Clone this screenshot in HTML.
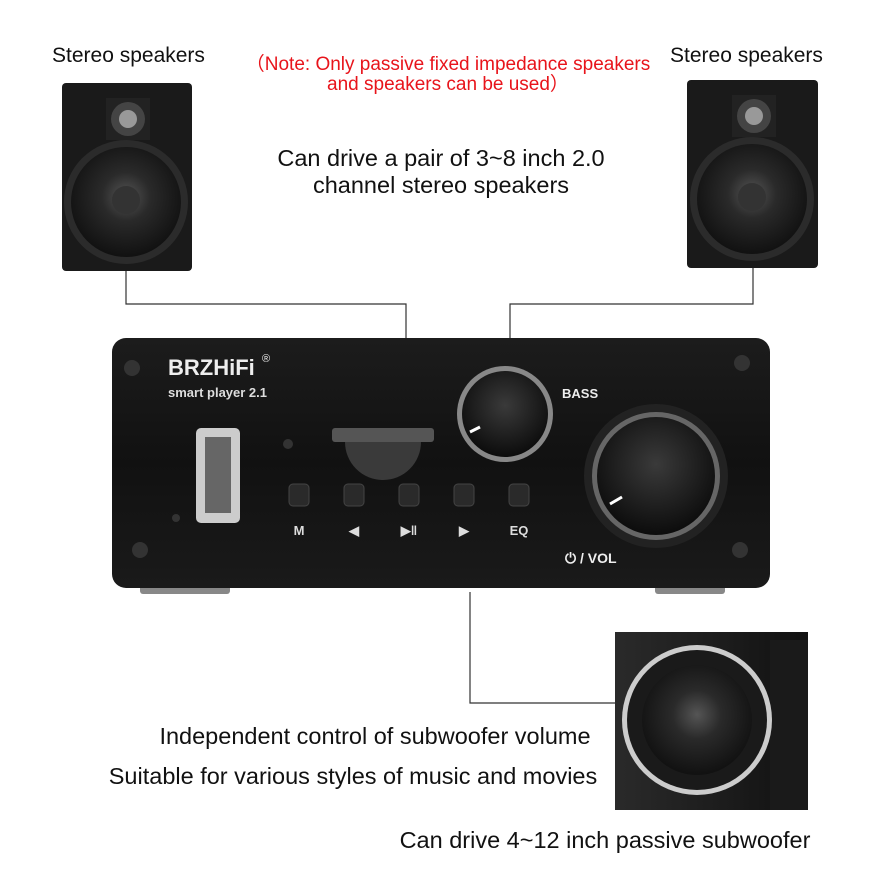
<!DOCTYPE html>
<html><head><meta charset="utf-8"><style>
html,body{margin:0;padding:0;background:#fff;}
svg{display:block;}
text{font-family:"Liberation Sans",Arial,sans-serif;}
</style></head><body>
<svg width="880" height="880" viewBox="0 0 880 880" xmlns="http://www.w3.org/2000/svg">
<defs>
<radialGradient id="cone" cx="50%" cy="45%" r="55%"><stop offset="0" stop-color="#555"/><stop offset="0.4" stop-color="#2a2a2a"/><stop offset="1" stop-color="#111"/></radialGradient>
<radialGradient id="knob" cx="50%" cy="40%" r="60%"><stop offset="0" stop-color="#3a3a3a"/><stop offset="1" stop-color="#0c0c0c"/></radialGradient>
<linearGradient id="body" x1="0" y1="0" x2="0" y2="1"><stop offset="0" stop-color="#1c1c1c"/><stop offset="0.5" stop-color="#111"/><stop offset="1" stop-color="#1a1a1a"/></linearGradient>
<linearGradient id="sub" x1="0" y1="0" x2="1" y2="0"><stop offset="0" stop-color="#2a2a2a"/><stop offset="1" stop-color="#111"/></linearGradient>
</defs>
<text x="52" y="62" font-size="21" fill="#111">Stereo speakers</text>
<text x="670" y="62" font-size="21" fill="#111">Stereo speakers</text>
<text x="448" y="70" font-size="19" fill="#e8141b" text-anchor="middle">（Note: Only passive fixed impedance speakers</text>
<text x="448" y="90" font-size="19" fill="#e8141b" text-anchor="middle">and speakers can be used）</text>
<text x="441" y="166" font-size="23.5" fill="#111" text-anchor="middle">Can drive a pair of 3~8 inch 2.0</text>
<text x="441" y="193" font-size="23.5" fill="#111" text-anchor="middle">channel stereo speakers</text>
<!-- left speaker -->
<rect x="62" y="83" width="130" height="188" rx="4" fill="#1a1a1a"/>
<rect x="106" y="98" width="44" height="42" fill="#222"/>
<circle cx="128" cy="119" r="17" fill="#444"/><circle cx="128" cy="119" r="9" fill="#999"/>
<circle cx="126" cy="202" r="62" fill="#2b2b2b"/><circle cx="126" cy="202" r="55" fill="url(#cone)"/><circle cx="126" cy="200" r="14" fill="#333"/>
<!-- right speaker -->
<rect x="687" y="80" width="131" height="188" rx="4" fill="#1a1a1a"/>
<rect x="732" y="95" width="44" height="42" fill="#222"/>
<circle cx="754" cy="116" r="17" fill="#444"/><circle cx="754" cy="116" r="9" fill="#999"/>
<circle cx="752" cy="199" r="62" fill="#2b2b2b"/><circle cx="752" cy="199" r="55" fill="url(#cone)"/><circle cx="752" cy="197" r="14" fill="#333"/>
<!-- connectors -->
<polyline points="126,271 126,304 406,304 406,338" fill="none" stroke="#333" stroke-width="1.2"/>
<polyline points="753,268 753,304 510,304 510,338" fill="none" stroke="#333" stroke-width="1.2"/>
<polyline points="470,592 470,703 615,703" fill="none" stroke="#333" stroke-width="1.2"/>
<!-- amp -->
<rect x="140" y="572" width="90" height="22" rx="3" fill="#888"/>
<rect x="655" y="572" width="70" height="22" rx="3" fill="#888"/>
<rect x="112" y="338" width="658" height="250" rx="14" fill="url(#body)"/>
<circle cx="132" cy="368" r="8" fill="#333"/><circle cx="742" cy="363" r="8" fill="#333"/>
<circle cx="140" cy="550" r="8" fill="#333"/><circle cx="740" cy="550" r="8" fill="#333"/>
<text x="168" y="375" font-size="22" font-weight="bold" fill="#eee">BRZHiFi</text>
<text x="262" y="362" font-size="11" fill="#eee">®</text>
<text x="168" y="397" font-size="13" font-weight="bold" fill="#ddd">smart player 2.1</text>
<rect x="196" y="428" width="44" height="95" rx="5" fill="#ccc"/><rect x="205" y="437" width="26" height="76" fill="#666"/>
<circle cx="288" cy="444" r="5" fill="#333"/><circle cx="176" cy="518" r="4" fill="#333"/>
<rect x="332" y="428" width="102" height="14" rx="3" fill="#555"/>
<path d="M345 442 a28 28 0 0 0 76 0 z" fill="#3a3a3a"/>
<circle cx="505" cy="414" r="48" fill="#888"/><circle cx="505" cy="414" r="43" fill="url(#knob)"/>
<line x1="470" y1="432" x2="480" y2="427" stroke="#fff" stroke-width="3"/>
<text x="562" y="398" font-size="13" font-weight="bold" fill="#eee">BASS</text>
<circle cx="656" cy="476" r="72" fill="#222"/><circle cx="656" cy="476" r="64" fill="#666"/><circle cx="656" cy="476" r="59" fill="url(#knob)"/>
<line x1="610" y1="504" x2="622" y2="497" stroke="#fff" stroke-width="3"/>
<text x="565" y="563" font-size="14" font-weight="bold" fill="#eee">⏻ / VOL</text>
<g fill="#2a2a2a" stroke="#444">
<rect x="289" y="484" width="20" height="22" rx="4"/><rect x="344" y="484" width="20" height="22" rx="4"/><rect x="399" y="484" width="20" height="22" rx="4"/><rect x="454" y="484" width="20" height="22" rx="4"/><rect x="509" y="484" width="20" height="22" rx="4"/></g>
<g fill="#ddd" font-size="13" font-weight="bold" text-anchor="middle">
<text x="299" y="535">M</text><text x="354" y="535">◀</text><text x="409" y="535">▶‖</text><text x="464" y="535">▶</text><text x="519" y="535">EQ</text></g>
<!-- sub -->
<rect x="615" y="632" width="193" height="178" fill="url(#sub)"/>
<rect x="770" y="640" width="38" height="170" fill="#1a1a1a"/>
<circle cx="697" cy="720" r="75" fill="#ccc"/><circle cx="697" cy="720" r="70" fill="#1a1a1a"/><circle cx="697" cy="720" r="55" fill="url(#cone)"/>
<text x="375" y="744" font-size="23.5" fill="#111" text-anchor="middle">Independent control of subwoofer volume</text>
<text x="353" y="784" font-size="23.5" fill="#111" text-anchor="middle">Suitable for various styles of music and movies</text>
<text x="605" y="848" font-size="23.5" fill="#111" text-anchor="middle">Can drive 4~12 inch passive subwoofer</text>
</svg>
</body></html>
